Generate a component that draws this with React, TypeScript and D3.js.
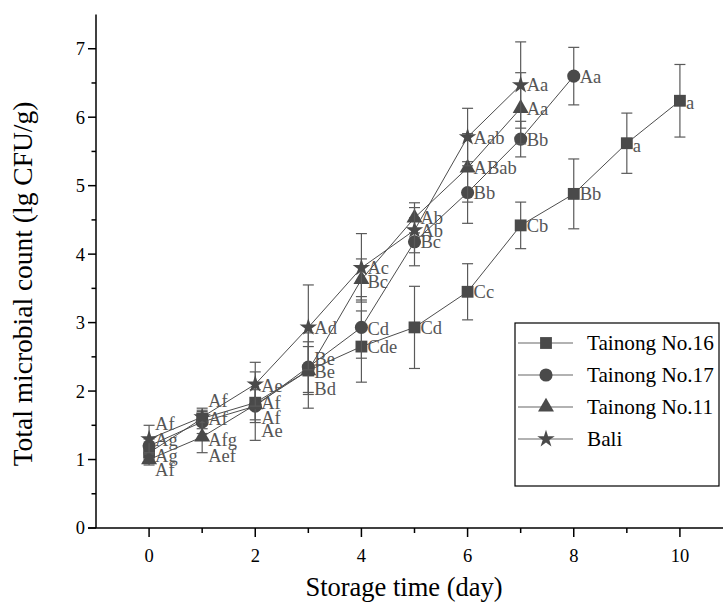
import React from 'react';
import * as d3 from 'd3';

const days = [0, 1, 2, 3, 4, 5, 6, 7, 8, 9, 10];
const seriesNames = ['Tainong No.16', 'Tainong No.17', 'Tainong No.11', 'Bali'];

const no16Values = [1.1, 1.6, 1.83, 2.3, 2.65, 2.93, 3.45, 4.42, 4.88, 5.62, 6.24];
const no16Errors = [0.1, 0.15, 0.29, 0.35, 0.52, 0.6, 0.41, 0.34, 0.51, 0.44, 0.53];
const no16Labels = ['Ag', 'Af', 'Af', 'Be', 'Cde', 'Cd', 'Cc', 'Cb', 'Bb', 'a', 'a'];

const no17Values = [1.2, 1.55, 1.78, 2.35, 2.93, 4.18, 4.9, 5.68, 6.6];
const no17Errors = [0.1, 0.17, 0.5, 0.37, 0.45, 0.35, 0.45, 0.26, 0.42];
const no17Labels = ['Ag', 'Afg', 'Ae', 'Be', 'Cd', 'Bc', 'Bb', 'Bb', 'Aa'];

const no11Values = [1.0, 1.33, 1.8, 2.3, 3.63, 4.53, 5.26, 6.13];
const no11Errors = [0.08, 0.23, 0.22, 0.55, 0.3, 0.22, 0.5, 0.52];
const no11Labels = ['Af', 'Aef', 'Af', 'Bd', 'Bc', 'Ab', 'ABab', 'Aa'];

const baliValues = [1.3, 1.62, 2.1, 2.93, 3.8, 4.35, 5.71, 6.47];
const baliErrors = [0.2, 0.08, 0.32, 0.62, 0.5, 0.33, 0.42, 0.63];
const baliLabels = ['Af', 'Af', 'Ae', 'Ad', 'Ac', 'Ab', 'Aab', 'Aa'];

// vertical nudges (px) of the letter annotations, to avoid overlaps as in the figure
const no16Shift = [3, 0, 0, 1, 0, 0, 0, 0, 0, 2, 2];
const no17Shift = [-6, 18, 24, -9, 1, 0, 0, 0, 0];
const no11Shift = [10, 19, 13, 18, 2, 0, 0, 0];
const baliShift = [-15, -17, 1, 0, 0, 0, 0, 0];

const yTicks = [0, 1, 2, 3, 4, 5, 6, 7];
const xTicks = [0, 2, 4, 6, 8, 10];

const W = 723;
const H = 604;
const FONT = '"Liberation Serif", "Times New Roman", serif';

export default function App() {
  const x = d3.scaleLinear().domain([-1, 11]).range([96, 733]);
  const y = d3.scaleLinear().domain([0, 7.5]).range([528, 14.5]);

  const series = [
    { name: seriesNames[0], values: no16Values, errors: no16Errors, labels: no16Labels, shift: no16Shift, symbol: d3.symbolSquare, size: 140 },
    { name: seriesNames[1], values: no17Values, errors: no17Errors, labels: no17Labels, shift: no17Shift, symbol: d3.symbolCircle, size: 135 },
    { name: seriesNames[2], values: no11Values, errors: no11Errors, labels: no11Labels, shift: no11Shift, symbol: d3.symbolTriangle, size: 110 },
    { name: seriesNames[3], values: baliValues, errors: baliErrors, labels: baliLabels, shift: baliShift, symbol: d3.symbolStar, size: 95 },
  ];

  const line = d3
    .line<number>()
    .x((_, i) => x(days[i]))
    .y((d) => y(d));

  const markColor = '#4a4a4a';
  const lineColor = '#4d4d4d';
  const errColor = '#5a5a5a';
  const labelColor = '#555555';

  const yMinor = d3.range(0.5, 7.5, 1);
  const xMinor = [1, 3, 5, 7, 9];

  const legendX = 515;
  const legendY = 323;
  const legendW = 204;
  const legendH = 163;

  return (
    <svg width={W} height={H} style={{ position: 'absolute', left: 0, top: 0, background: '#fff' }} fontFamily={FONT}>
      <rect x={0} y={0} width={W} height={H} fill="#fff" />
      {/* series */}
      {series.map((s, si) => (
        <g key={si}>
          <path d={line(s.values) || ''} fill="none" stroke={lineColor} strokeWidth={1} />
          {s.values.map((v, i) => {
            const cx = x(days[i]);
            return (
              <g key={i} stroke={errColor} strokeWidth={1.2}>
                <line x1={cx} x2={cx} y1={y(v + s.errors[i])} y2={y(v - s.errors[i])} />
                <line x1={cx - 5.5} x2={cx + 5.5} y1={y(v + s.errors[i])} y2={y(v + s.errors[i])} />
                <line x1={cx - 5.5} x2={cx + 5.5} y1={y(v - s.errors[i])} y2={y(v - s.errors[i])} />
              </g>
            );
          })}
          {s.values.map((v, i) => (
            <path
              key={'m' + i}
              d={d3.symbol().type(s.symbol).size(s.size)() || ''}
              transform={`translate(${x(days[i])},${y(v)})`}
              fill={markColor}
            />
          ))}
        </g>
      ))}
      {/* letter annotations */}
      {series.map((s, si) => (
        <g key={'l' + si} fill={labelColor} fontSize={18.5}>
          {s.values.map((v, i) => (
            <text key={i} x={x(days[i]) + 6} y={y(v) + s.shift[i]} dy="0.35em">
              {s.labels[i]}
            </text>
          ))}
        </g>
      ))}
      {/* axes */}
      <g stroke="#000" strokeWidth={1.5}>
        <line x1={x(-1)} x2={x(-1)} y1={y(7.5)} y2={y(0)} />
        <line x1={x(-1) - 8} x2={W} y1={y(0)} y2={y(0)} />
        {yTicks.map((t) => (
          <line key={'yt' + t} x1={x(-1) - 8} x2={x(-1)} y1={y(t)} y2={y(t)} />
        ))}
        {yMinor.map((t) => (
          <line key={'ym' + t} x1={x(-1) - 4.5} x2={x(-1)} y1={y(t)} y2={y(t)} />
        ))}
        {xTicks.map((t) => (
          <line key={'xt' + t} x1={x(t)} x2={x(t)} y1={y(0)} y2={y(0) + 9} />
        ))}
        {xMinor.map((t) => (
          <line key={'xm' + t} x1={x(t)} x2={x(t)} y1={y(0)} y2={y(0) + 5} />
        ))}
      </g>
      <g fontSize={18.5} fill="#000">
        {yTicks.map((t) => (
          <text key={'yl' + t} x={x(-1) - 11} y={y(t)} dy="0.35em" textAnchor="end">
            {t}
          </text>
        ))}
        {xTicks.map((t) => (
          <text key={'xl' + t} x={x(t)} y={y(0) + 28} dy="0.35em" textAnchor="middle">
            {t}
          </text>
        ))}
      </g>
      <text x={404} y={587} dy="0.35em" textAnchor="middle" fontSize={26.5}>
        Storage time (day)
      </text>
      <text
        transform={`translate(22,284) rotate(-90)`}
        dy="0.35em"
        textAnchor="middle"
        fontSize={27.5}
      >
        Total microbial count (lg CFU/g)
      </text>
      {/* legend */}
      <rect x={legendX} y={legendY} width={legendW} height={legendH} fill="#fff" stroke="#000" strokeWidth={1.2} />
      {series.map((s, si) => {
        const cy = legendY + 20 + si * 32;
        return (
          <g key={'lg' + si}>
            <line x1={legendX + 3} x2={legendX + 58} y1={cy} y2={cy} stroke="#666" strokeWidth={1.2} />
            <path
              d={d3.symbol().type(s.symbol).size(s.size)() || ''}
              transform={`translate(${legendX + 31},${cy})`}
              fill={markColor}
            />
            <text x={legendX + 72} y={cy} dy="0.35em" fontSize={21.2} fill="#000">
              {s.name}
            </text>
          </g>
        );
      })}
    </svg>
  );
}
